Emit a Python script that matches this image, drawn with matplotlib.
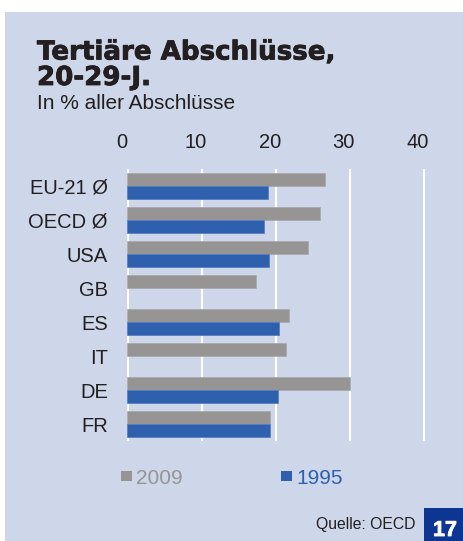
import matplotlib
matplotlib.use("Agg")
import matplotlib.pyplot as plt
import matplotlib.patheffects as pe
from matplotlib.patches import Rectangle
from matplotlib.transforms import ScaledTranslation
import numpy as np

plt.rcParams["font.family"] = ["Liberation Sans", "DejaVu Sans"]

# data
countries = ["EU-21 Ø", "OECD Ø", "USA", "GB", "ES", "IT", "DE", "FR"]
v2009 = [26.6, 26.0, 24.4, 17.3, 21.8, 21.4, 30.0, 19.2]
v1995 = [19.0, 18.4, 19.1, np.nan, 20.5, np.nan, 20.3, 19.2]
xticks = [0, 10, 20, 30, 40]

BG = "#cdd7e9"
GREY = "#969593"
BLUE = "#2f60ad"
NAVY = "#0d3592"
INK = "#231f20"

W, H = 463, 541
fig = plt.figure(figsize=(W / 100, H / 100), dpi=100)
fig.patch.set_facecolor("white")
fig.patches.append(Rectangle((5 / W, 0), 1, 1 - 12 / H, transform=fig.transFigure,
                             facecolor=BG, edgecolor="none", zorder=-10))

ax = fig.add_axes([127.4 / W, 1 - 441 / H, 333.7 / W, 272 / H])
ax.set_facecolor("none")
y = np.arange(len(countries))
bh = 0.368
ax.barh(y - bh / 2, v2009, height=bh, color=GREY, edgecolor="#a9aab0", lw=0.6, zorder=3)
ax.barh(y + bh / 2, v1995, height=bh, color=BLUE, edgecolor="#5a7fc0", lw=0.6, zorder=3)

for t in xticks:
    ax.axvline(t, color="white", lw=2.9 if t == 0 else 1.5, zorder=1)

ax.set_xlim(0, 45)
ax.set_ylim(7.5, -0.5)
ax.xaxis.tick_top()
ax.set_xticks(xticks)
ax.set_yticks(y)
ax.set_yticklabels(countries)
ax.tick_params(axis="x", length=0, pad=12, labelsize=14.5, colors=INK)
ax.tick_params(axis="y", length=0, pad=14, labelsize=14.5, colors=INK)
shift = ScaledTranslation(-6 / 100, 0, fig.dpi_scale_trans)
for lab in ax.get_xticklabels():
    lab.set_transform(lab.get_transform() + shift)
for s in ax.spines.values():
    s.set_visible(False)

heavy = [pe.withStroke(linewidth=0.6, foreground=INK)]
fig.text(37 / W, 1 - 59.5 / H, "Tertiäre Abschlüsse,", fontsize=18.8, fontweight="bold",
         family="DejaVu Sans", color=INK, va="baseline", path_effects=heavy)
fig.text(37 / W, 1 - 85 / H, "20-29-J.", fontsize=18.8, fontweight="bold",
         family="DejaVu Sans", color=INK, va="baseline", path_effects=heavy)
fig.text(37 / W, 1 - 109 / H, "In % aller Abschlüsse", fontsize=15,
         color=INK, va="baseline")

# legend
fig.patches.append(Rectangle((121 / W, 1 - 481 / H), 11 / W, 10 / H, transform=fig.transFigure,
                             facecolor=GREY, edgecolor="none"))
fig.text(136 / W, 1 - 484 / H, "2009", fontsize=15, color=GREY, va="baseline")
fig.patches.append(Rectangle((281 / W, 1 - 481 / H), 11 / W, 10 / H, transform=fig.transFigure,
                             facecolor=BLUE, edgecolor="none"))
fig.text(296 / W, 1 - 484 / H, "1995", fontsize=15, color=BLUE, va="baseline")

fig.text(415 / W, 1 - 529 / H, "Quelle: OECD", fontsize=11.3, color=INK,
         ha="right", va="baseline")
fig.patches.append(Rectangle((424 / W, 0), 39 / W, 33 / H, transform=fig.transFigure,
                             facecolor=NAVY, edgecolor="none"))
fig.text(445 / W, 5 / H, "17", fontsize=15.5, fontweight="bold", color="white",
         ha="center", va="baseline",
         path_effects=[pe.withStroke(linewidth=0.6, foreground="white")])

fig.savefig("out.png", dpi=100, facecolor=fig.get_facecolor())
